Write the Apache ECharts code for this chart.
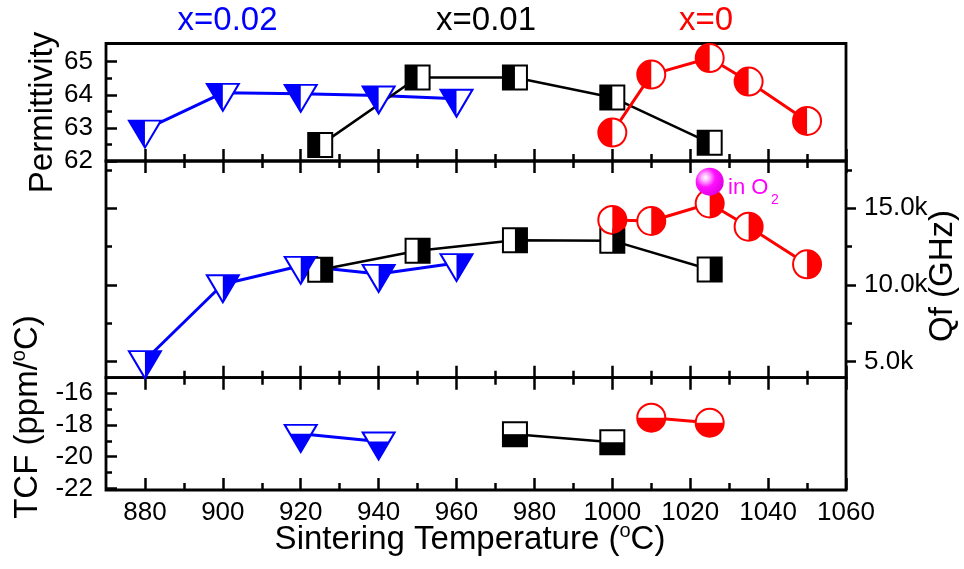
<!DOCTYPE html>
<html>
<head>
<meta charset="utf-8">
<title>Sintering temperature</title>
<script src="https://cdn.jsdelivr.net/npm/echarts@6/dist/echarts.min.js"></script>
<style>
  html, body { margin: 0; padding: 0; background: #fff; }
  #chart { width: 964px; height: 569px; }
</style>
</head>
<body>
<div id="chart"></div>
<script>
const FONT = '"Liberation Sans", Arial, sans-serif';
const BLUE = '#0000ff', RED = '#ff0000', BLACK = '#000000', MAGENTA = '#ff00ff';

// x = 0.02
const temps02 = [880, 900, 920, 940, 960];
const perm02 = [62.95, 64.06, 64.03, 63.98, 63.88];
const qf02 = [5100, 10050, 11250, 10720, 11430];
const tcfTemps02 = [920, 940];
const tcf02 = [-18.56, -19.04];
// x = 0.01
const temps01 = [925, 950, 975, 1000, 1025];
const perm01 = [62.48, 64.52, 64.52, 63.92, 62.55];
const qf01 = [11000, 12230, 12910, 12890, 11010];
const tcfTemps01 = [975, 1000];
const tcf01 = [-18.58, -19.09];
// x = 0
const temps00 = [1000, 1010, 1025, 1035, 1050];
const perm00 = [62.86, 64.61, 65.11, 64.40, 63.21];
const qf00 = [14240, 14170, 15310, 13800, 11350];
const tcfTemps00 = [1010, 1025];
const tcf00 = [-17.54, -17.86];
// x = 0 sintered in O2
const o2Temps = [1025];
const o2Qf = [16730];

// ticks
const xMajor = [880, 900, 920, 940, 960, 980, 1000, 1020, 1040, 1060];
const xMinor = [890, 910, 930, 950, 970, 990, 1010, 1030, 1050];
const permMajor = [62, 63, 64, 65];
const permMinor = [62.5, 63.5, 64.5];
const qfMajor = [5000, 10000, 15000];
const qfMinor = [7500, 12500, 17500];
const tcfMajor = [-22, -20, -18, -16];
const tcfMinor = [-21, -19, -17];

// marker shapes (path bbox is stretched to symbolSize)
const TRI = 'path://M0,0L2,0L1,2Z';
const TRI_L = 'path://M0,0L1,0L1,2Z';
const TRI_R = 'path://M0,0L1,0L0,2Z';
const CIR_L = 'path://M1,0A1,1,0,0,0,1,2Z';
const CIR_R = 'path://M0,0A1,1,0,0,1,0,2Z';
const CIR_B = 'path://M0,0A1,1,0,0,0,2,0Z';
const TW = 32, TH = 27, SQ = 24, D = 28;

const mk = {
  tri:   { symbol: TRI, size: [TW, TH], offset: [0, TH / 6] },
  triL:  { symbol: TRI_L, size: [TW / 2, TH], offset: [-TW / 4, TH / 6] },
  triR:  { symbol: TRI_R, size: [TW / 2, TH], offset: [TW / 4, TH / 6] },
  triB:  { symbol: TRI, size: [TW * 2 / 3, TH * 2 / 3], offset: [0, TH / 3] },
  sq:    { symbol: 'rect', size: [SQ, SQ], offset: [0, 0] },
  sqL:   { symbol: 'rect', size: [SQ / 2, SQ], offset: [-SQ / 4, 0] },
  sqR:   { symbol: 'rect', size: [SQ / 2, SQ], offset: [SQ / 4, 0] },
  sqB:   { symbol: 'rect', size: [SQ, SQ / 2], offset: [0, SQ / 4] },
  cir:   { symbol: 'circle', size: [D, D], offset: [0, 0] },
  cirL:  { symbol: CIR_L, size: [D / 2, D], offset: [-D / 4, 0] },
  cirR:  { symbol: CIR_R, size: [D / 2, D], offset: [D / 4, 0] },
  cirB:  { symbol: CIR_B, size: [D, D / 2], offset: [0, D / 4] }
};

function xAx(grid, pos, ticks, len, labels) {
  return {
    type: 'value', gridIndex: grid, position: pos, min: 870, max: 1060,
    axisLine: { show: false, onZero: false },
    splitLine: { show: false },
    axisTick: { show: true, inside: true, length: len, customValues: ticks,
      lineStyle: { color: '#000', width: 2.5 } },
    axisLabel: labels
      ? { show: true, customValues: ticks, margin: 10, fontSize: 26, fontFamily: FONT, color: '#000',
          formatter: v => String(v) }
      : { show: false }
  };
}

function yAx(grid, pos, min, max, ticks, len, inside, labels, margin, fmt) {
  return {
    type: 'value', gridIndex: grid, position: pos, min: min, max: max,
    axisLine: { show: false, onZero: false },
    splitLine: { show: false },
    axisTick: { show: true, inside: inside, length: len, customValues: ticks,
      lineStyle: { color: '#000', width: 2.5 } },
    axisLabel: labels
      ? { show: true, customValues: ticks, margin: margin, fontSize: 26, fontFamily: FONT, color: '#000',
          formatter: fmt || (v => String(v)) }
      : { show: false }
  };
}

const xAxis = [
  xAx(0, 'bottom', xMajor, 12, false),  // 0 data, top panel
  xAx(0, 'bottom', xMinor, 7, false),
  xAx(1, 'bottom', xMajor, 12, false),  // 2 data, middle panel
  xAx(1, 'bottom', xMinor, 7, false),
  xAx(1, 'top', xMajor, 12, false),
  xAx(1, 'top', xMinor, 7, false),
  xAx(2, 'bottom', xMajor, 12, true),   // 6 data, bottom panel
  xAx(2, 'bottom', xMinor, 7, false),
  xAx(2, 'top', xMajor, 12, false),
  xAx(2, 'top', xMinor, 7, false)
];

const kFmt = v => (v / 1000).toFixed(1) + 'k';
const yAxis = [
  yAx(0, 'left', 62, 65.55, permMajor, 11, true, true, 13),          // 0
  yAx(0, 'left', 62, 65.55, permMinor, 6, true, false),
  yAx(1, 'right', 3960, 18080, qfMajor, 10, false, true, 18, kFmt),  // 2
  yAx(1, 'right', 3960, 18080, qfMinor, 6, false, false),
  yAx(1, 'left', 3960, 18080, qfMajor, 11, true, false),
  yAx(1, 'left', 3960, 18080, qfMinor, 6, true, false),
  yAx(2, 'left', -22.1, -15.02, tcfMajor, 11, true, true, 13),       // 6
  yAx(2, 'left', -22.1, -15.02, tcfMinor, 6, true, false)
];

const series = [];
function addGroup(xi, yi, xs, ys, color, lw, full, half) {
  const data = xs.map((x, i) => [x, ys[i]]);
  series.push({
    type: 'line', xAxisIndex: xi, yAxisIndex: yi, data: data, clip: false, z: 2,
    symbol: full.symbol, symbolSize: full.size, symbolOffset: full.offset,
    itemStyle: { color: '#fff', borderColor: color, borderWidth: 2, opacity: 1 },
    lineStyle: { color: color, width: lw },
    emphasis: { disabled: true }
  });
  series.push({
    type: 'scatter', xAxisIndex: xi, yAxisIndex: yi, data: data, clip: false, z: 3,
    symbol: half.symbol, symbolSize: half.size, symbolOffset: half.offset,
    itemStyle: { color: color, borderWidth: 0, opacity: 1 },
    emphasis: { disabled: true }
  });
}

// Permittivity
addGroup(0, 0, temps02, perm02, BLUE, 3, mk.tri, mk.triL);
addGroup(0, 0, temps01, perm01, BLACK, 2.5, mk.sq, mk.sqL);
addGroup(0, 0, temps00, perm00, RED, 3, mk.cir, mk.cirL);
// Qf
addGroup(2, 2, temps02, qf02, BLUE, 3, mk.tri, mk.triR);
addGroup(2, 2, temps01, qf01, BLACK, 2.5, mk.sq, mk.sqR);
addGroup(2, 2, temps00, qf00, RED, 3, mk.cir, mk.cirR);
// TCF
addGroup(6, 6, tcfTemps02, tcf02, BLUE, 3, mk.tri, mk.triB);
addGroup(6, 6, tcfTemps01, tcf01, BLACK, 2.5, mk.sq, mk.sqB);
addGroup(6, 6, tcfTemps00, tcf00, RED, 3, mk.cir, mk.cirB);

series.push({
  type: 'scatter', xAxisIndex: 2, yAxisIndex: 2, clip: false, z: 4,
  data: o2Temps.map((x, i) => [x, o2Qf[i]]),
  symbol: 'circle', symbolSize: D,
  itemStyle: {
    opacity: 1,
    color: {
      type: 'radial', x: 0.35, y: 0.35, r: 0.7,
      colorStops: [
        { offset: 0, color: '#ffffff' },
        { offset: 0.2, color: '#ffb0ff' },
        { offset: 0.5, color: '#ff10ff' },
        { offset: 1, color: '#e000e0' }
      ]
    }
  },
  emphasis: { disabled: true }
});

const gridBase = { left: 106, right: 118, show: true, borderColor: '#000', borderWidth: 2.8,
  backgroundColor: 'transparent', containLabel: false, outerBoundsMode: 'none' };

function txt(x, y, text, size, color, rot, rich) {
  return {
    type: 'text', x: x, y: y, rotation: rot || 0, silent: true,
    style: { text: text, fontSize: size, fontFamily: FONT, fill: color,
      align: 'center', verticalAlign: 'middle', rich: rich }
  };
}
const supRich = { s: { fontSize: 20, fontFamily: FONT, fill: '#000', padding: [0, 0, 16, 0] } };

const option = {
  animation: false,
  backgroundColor: '#fff',
  grid: [
    Object.assign({ top: 43.5, height: 117.5 }, gridBase),
    Object.assign({ top: 161, height: 216.7 }, gridBase),
    Object.assign({ top: 377.7, height: 112.3 }, gridBase)
  ],
  xAxis: xAxis,
  yAxis: yAxis,
  series: series,
  graphic: [
    txt(227.5, 21, 'x=0.02', 33, BLUE),
    txt(486, 21, 'x=0.01', 33, BLACK),
    txt(706, 21, 'x=0', 33, RED),
    txt(42.5, 112.5, 'Permittivity', 33, '#000', Math.PI / 2),
    txt(27.7, 417, 'TCF (ppm/{s|o}C)', 33, '#000', Math.PI / 2, supRich),
    txt(942.5, 276, 'Qf (GHz)', 33, '#000', Math.PI / 2),
    txt(470, 539.5, 'Sintering Temperature ({s|o}C)', 33, '#000', 0, supRich),
    { type: 'text', x: 728, y: 188, silent: true,
      style: { text: 'in O', fontSize: 22, fontFamily: FONT, fill: MAGENTA, align: 'left', verticalAlign: 'middle' } },
    { type: 'text', x: 771, y: 200.5, silent: true,
      style: { text: '2', fontSize: 14, fontFamily: FONT, fill: MAGENTA, align: 'left', verticalAlign: 'middle' } }
  ]
};

const myChart = echarts.init(document.getElementById('chart'));
myChart.setOption(option);
window.addEventListener('resize', () => {
  myChart.resize();
});
</script>
</body>
</html>
